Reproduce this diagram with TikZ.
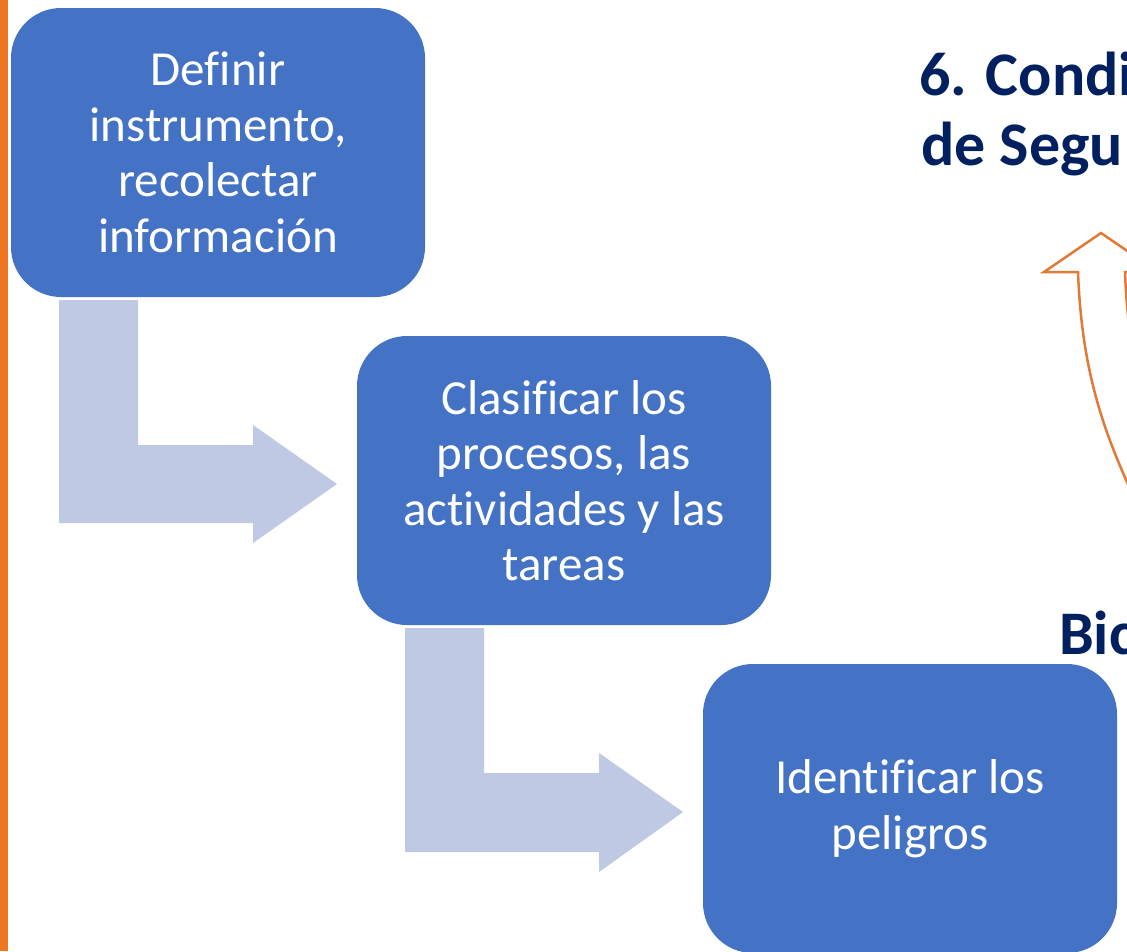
\documentclass[tikz,border=0pt]{standalone}
\usepackage{fontspec}
\setmainfont{Carlito}[Ligatures=NoCommon]
\definecolor{boxblue}{HTML}{4472C4}
\definecolor{arrowfill}{HTML}{BFC9E3}
\definecolor{stripe}{HTML}{EC7622}
\definecolor{navy}{HTML}{002060}
\definecolor{curveorange}{HTML}{E07A36}
\begin{document}
\begin{tikzpicture}[x=1pt,y=-1pt,
  stepbox/.style={fill=boxblue, rounded corners=50pt, minimum width=414pt, minimum height=289pt,
    text=white, align=center, font=\fontsize{49}{55.5}\selectfont, inner sep=0pt},
  bentarrow/.style={fill=arrowfill},
  titletext/.style={text=navy, font=\bfseries\fontsize{62}{70}\selectfont, anchor=base west, inner sep=0pt},
  curvearrow/.style={draw=curveorange, line width=2.5pt, line join=miter}]
\useasboundingbox (0,0) rectangle (1127,951);
\clip (0,0) rectangle (1127,951);
\fill[white] (0,0) rectangle (1127,951);
\fill[stripe] (0,0) rectangle (7.5,951);
% boxes
\node[stepbox] (b1) at (218,152.5) {Definir\\instrumento,\\recolectar\\información};
\node[stepbox] (b2) at (564,480.5) {Clasificar los\\procesos, las\\actividades y las\\tareas};
\node[stepbox] (b3) at (910,808.5) {Identificar los\\peligros};
% bent arrows
\fill[bentarrow] (59,300) -- (138,300) -- (138,445) -- (253,445) -- (253,425) -- (337,484)
  -- (253,543) -- (253,523) -- (59,523) -- cycle;
\fill[bentarrow] (405,628) -- (484,628) -- (484,773) -- (599,773) -- (599,753) -- (683,812)
  -- (599,872) -- (599,852) -- (405,852) -- cycle;
% titles
\node[titletext] (t1) at (919,95) {6. Condi};
\node[titletext] (t2) at (921,165) {de Segu};
\node[titletext] (t3) at (1059,654) {Bic};
% curved up arrow
\draw[curvearrow] (1135,500) .. controls (1108,440) and (1082,380) .. (1078,272)
  -- (1044,272) -- (1101,233) -- (1158,272) -- (1125,272)
  .. controls (1129,380) and (1155,440) .. (1182,500);
\end{tikzpicture}
\end{document}
